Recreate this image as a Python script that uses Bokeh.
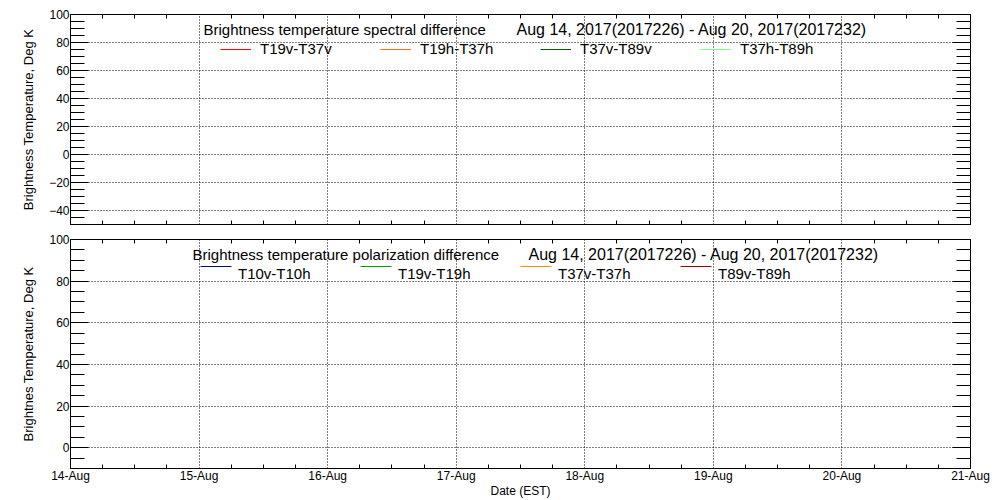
from datetime import datetime, timedelta

from bokeh.plotting import figure
from bokeh.models import (Range1d, FixedTicker, SingleIntervalTicker, LinearAxis,
                          DatetimeAxis, Label, Legend, LegendItem, CustomLabelingPolicy,
                          BoxAnnotation)
from bokeh.layouts import column
from bokeh.embed import file_html
from bokeh.resources import INLINE

# ---------------- data ----------------
day_ticks = ["2017-08-14", "2017-08-15", "2017-08-16", "2017-08-17",
             "2017-08-18", "2017-08-19", "2017-08-20", "2017-08-21"]
day_labels = ["14-Aug", "15-Aug", "16-Aug", "17-Aug",
              "18-Aug", "19-Aug", "20-Aug", "21-Aug"]
minor_hours = [6, 12, 18]

spectral_names = ["T19v-T37v", "T19h-T37h", "T37v-T89v", "T37h-T89h"]
spectral_colors = ["#ff0000", "#f07020", "#005a00", "#80ff80"]
polar_names = ["T10v-T10h", "T19v-T19h", "T37v-T37h", "T89v-T89h"]
polar_colors = ["#0000a0", "#00a000", "#ff8c00", "#a00000"]

# no observations fall inside the plotted period: every series is empty
obs_time = []
T19v_T37v = []
T19h_T37h = []
T37v_T89v = []
T37h_T89h = []
T10v_T10h = []
T19v_T19h = []
T37v_T37h = []
T89v_T89h = []

top_title = "Brightness temperature spectral difference"
bottom_title = "Brightness temperature polarization difference"
period = "Aug 14, 2017(2017226) - Aug 20, 2017(2017232)"
top_ylabel = "Brightness Temperature, Deg K"
bottom_ylabel = "Brightnes Temperature, Deg K"
xlabel = "Date (EST)"
top_yrange = (-50, 100)
bottom_yrange = (-10, 100)

# ---------------- helpers ----------------
FONT = "Liberation Sans"
EPOCH = datetime(1970, 1, 1)
NAN = float("nan")
GLYPH_W = 31
PITCH = 160


def to_ms(d):
    return (d - EPOCH).total_seconds() * 1000.0


days = [datetime.strptime(d, "%Y-%m-%d") for d in day_ticks]
major_ms = [to_ms(d) for d in days]
minor_ms = [to_ms(d + timedelta(hours=h)) for d in days[:-1] for h in minor_hours]
obs_ms = [to_ms(t) for t in obs_time]


def style_axis(ax, kind, labels):
    ax.axis_line_color = "black"
    ax.major_tick_line_color = "black"
    ax.minor_tick_line_color = "black"
    ax.major_tick_out = 0
    ax.minor_tick_out = 0
    if kind == "x":
        ax.major_tick_in = 0
        ax.minor_tick_in = 4
    else:
        ax.major_tick_in = 18
        ax.minor_tick_in = 14
    if labels:
        ax.major_label_text_font = FONT
        ax.major_label_text_font_size = "12px"
        ax.major_label_text_color = "black"
        ax.axis_label_text_font = FONT
        ax.axis_label_text_font_style = "normal"
        ax.axis_label_text_color = "black"
    else:
        # mirrored axis: ticks only, no labels drawn
        ax.major_label_text_font_size = "1px"
        ax.major_label_standoff = 0
        ax.major_label_policy = CustomLabelingPolicy(code="return []")


def panel(height, b_top, b_bottom, yr, ylabel, names, colors, series,
          title, title_xy, period_x, title_sizes, legend_xy, standoff,
          key_offset, show_x):
    p = figure(width=1000, height=height, x_axis_type="datetime",
               x_range=Range1d(major_ms[0], major_ms[-1]), y_range=Range1d(*yr),
               output_backend="svg", toolbar_location=None,
               min_border_left=70, min_border_right=30,
               min_border_top=b_top, min_border_bottom=b_bottom)
    p.outline_line_color = "black"
    xt = FixedTicker(ticks=major_ms, minor_ticks=minor_ms)
    yt = SingleIntervalTicker(interval=20, num_minor_ticks=4)
    p.xaxis.ticker = xt
    p.yaxis.ticker = yt
    p.xgrid.ticker = xt
    p.ygrid.ticker = yt
    for g in (p.xgrid, p.ygrid):
        g.grid_line_color = "black"
        g.grid_line_dash = "1 2"
        g.grid_line_width = 1

    xa = p.xaxis[0]
    style_axis(xa, "x", show_x)
    if show_x:
        xa.major_label_overrides = {m: l for m, l in zip(major_ms, day_labels)}
        xa.major_label_standoff = 0
        xa.axis_label = xlabel
        xa.axis_label_text_font_size = "12px"
        xa.axis_label_standoff = -2

    ya = p.yaxis[0]
    style_axis(ya, "y", True)
    ya.major_label_standoff = 1
    ya.axis_label = ylabel
    ya.axis_label_text_font_size = "13px"
    ya.axis_label_standoff = 10

    ra = LinearAxis(ticker=yt)
    style_axis(ra, "y", False)
    p.add_layout(ra, "right")
    ta = DatetimeAxis(ticker=xt)
    style_axis(ta, "x", False)
    p.add_layout(ta, "above")

    row_h = 16
    items = []
    for name, color, vals in zip(names, colors, series):
        # the series itself (empty for this period)
        p.line(x=obs_ms, y=vals, line_color=color, line_width=1)
        # legend key proxy (draws nothing in the frame)
        proxy = p.line(x=[NAN], y=[NAN], line_color=color, line_width=1,
                       line_alpha=0 if key_offset else 1)
        items.append(LegendItem(label=name, renderers=[proxy]))
    leg = Legend(items=items, orientation="horizontal", location=legend_xy,
                 glyph_width=GLYPH_W, glyph_height=row_h, label_height=row_h,
                 label_width=80, label_standoff=standoff,
                 spacing=PITCH - GLYPH_W - standoff - 80,
                 padding=0, margin=0, background_fill_alpha=0, border_line_alpha=0,
                 label_text_font=FONT, label_text_font_size="15px",
                 label_text_color="black")
    p.add_layout(leg, "center")

    if key_offset:
        # key lines sit above the middle of their labels
        cy = round(legend_xy[1] + row_h / 2 + key_offset)
        for i, color in enumerate(colors):
            x0 = legend_xy[0] + i * PITCH
            p.add_layout(BoxAnnotation(
                left=x0, right=x0 + GLYPH_W, bottom=cy - 1.5, top=cy - 0.5,
                left_units="screen", right_units="screen",
                bottom_units="screen", top_units="screen",
                fill_color=color, fill_alpha=1, line_alpha=0, level="overlay"))

    for txt, x, fs in ((title, title_xy[0], title_sizes[0]),
                       (period, period_x, title_sizes[1])):
        p.add_layout(Label(x=x, y=title_xy[1], x_units="screen", y_units="screen",
                           text=txt, text_font=FONT, text_font_size=fs,
                           text_baseline="middle", text_color="black"))
    return p


top = panel(231, 14, 7, top_yrange, top_ylabel, spectral_names, spectral_colors,
            [T19v_T37v, T19h_T37h, T37v_T89v, T37h_T89h],
            top_title, (133, 195), 446, ("15px", "16px"),
            (150, 167), 9, 0, False)
bottom = panel(269, 8, 31, bottom_yrange, bottom_ylabel, polar_names, polar_colors,
               [T10v_T10h, T19v_T19h, T37v_T37h, T89v_T89h],
               bottom_title, (122, 214.5), 458, ("15px", "16px"),
               (130, 186), 7, 9, True)

layout = column(top, bottom)
open("out.html", "w").write(file_html(layout, INLINE))
